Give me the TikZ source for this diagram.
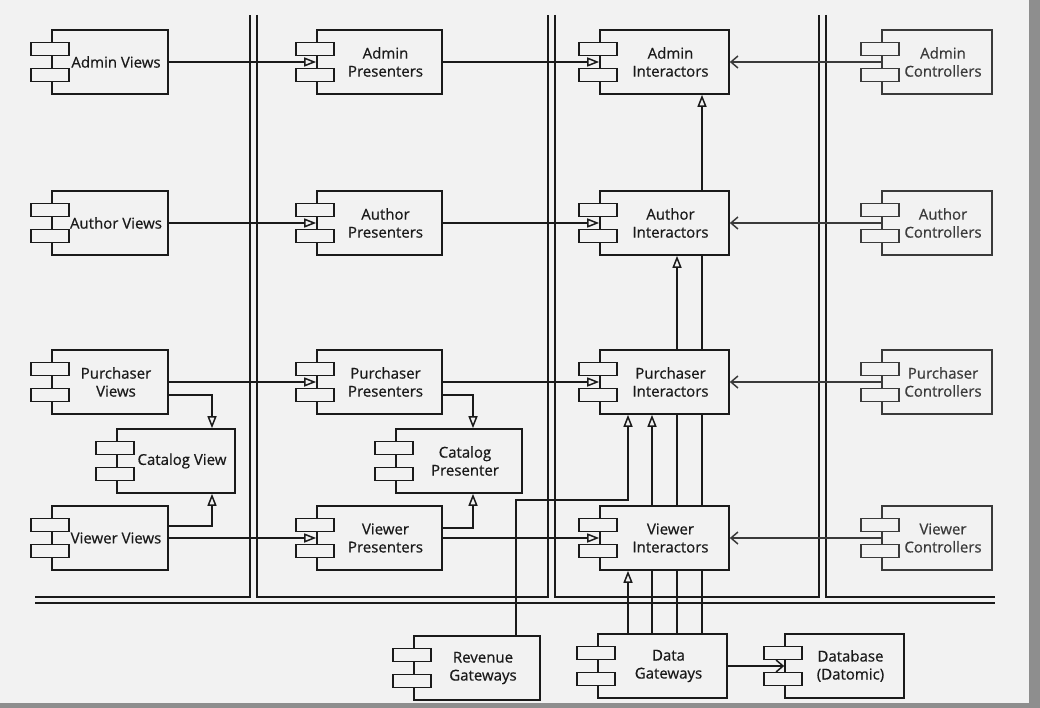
\documentclass[tikz,border=0pt]{standalone}
\usepackage{fontspec}
\setmainfont{Open Sans}
\newfontfamily\lblfont{Open Sans}[FakeBold=0.6]
\usetikzlibrary{arrows.meta,calc,positioning}
\definecolor{linecol}{HTML}{1A1A1A}
\definecolor{ctrlcol}{HTML}{3A3A3A}
\definecolor{pagecol}{HTML}{F2F2F2}
\definecolor{bandcol}{HTML}{8E8E8E}
\pgfdeclarelayer{paper}
\pgfdeclarelayer{background}
\pgfsetlayers{paper,background,main}
\tikzset{
  compmain/.style={fill=pagecol, line width=1.6pt, minimum height=64pt, inner sep=0pt},
  comptab/.style={fill=pagecol, line width=1.6pt, minimum width=38pt, minimum height=13pt, inner sep=0pt},
  complabel/.style={align=center, font=\lblfont\fontsize{15}{18}\selectfont, inner sep=0pt},
  impl/.style={line width=1.5pt, draw=linecol, -{Triangle[open, length=12pt, width=9pt, line width=1.5pt]}},
  uses/.style={line width=1.5pt, draw=#1, -{Straight Barb[length=7pt, width=12pt, line width=1.5pt]}},
  uses/.default=linecol,
  wall/.style={line width=1.4pt, draw=linecol, line join=miter},
}
\newcommand\comp[6][linecol]{%
  \node[compmain, draw=#1, minimum width=#5] (#2) at (#3,#4) {};
  \node[comptab, draw=#1] (#2-ta) at ($(#2.west)+(-1,-13)$) {};
  \node[comptab, draw=#1] (#2-tb) at ($(#2.west)+(-1,13)$) {};
  \node[complabel, text=#1] (#2-l) at ($(#2.center)+(6,0)$) {#6};
}
\begin{document}
\begin{tikzpicture}[x=1pt, y=-1pt]
\useasboundingbox (0,0) rectangle (1040,708);
\begin{pgfonlayer}{paper}
  \fill[pagecol] (0,0) rectangle (1040,708);
  \fill[bandcol] (1029,0) rectangle (1040,708);
  \fill[bandcol] (0,703) rectangle (1040,708);
\end{pgfonlayer}

% Views
\comp{av}{110}{62}{116pt}{Admin Views}
\comp{auv}{110}{223}{116pt}{Author Views}
\comp{pv}{110}{382}{116pt}{Purchaser\\Views}
\comp{cv}{176}{461}{118pt}{Catalog View}
\comp{vv}{110}{538}{116pt}{Viewer Views}
% Presenters
\comp{ap}{379.5}{62}{125pt}{Admin\\Presenters}
\comp{aup}{379.5}{223}{125pt}{Author\\Presenters}
\comp{pp}{379.5}{382}{125pt}{Purchaser\\Presenters}
\comp{cp}{459}{461}{126pt}{Catalog\\Presenter}
\comp{vp}{379.5}{538}{125pt}{Viewer\\Presenters}
% Interactors
\comp{ai}{664.5}{62}{129pt}{Admin\\Interactors}
\comp{aui}{664.5}{223}{129pt}{Author\\Interactors}
\comp{pi}{664.5}{382}{129pt}{Purchaser\\Interactors}
\comp{vi}{664.5}{538}{129pt}{Viewer\\Interactors}
% Controllers
\comp[ctrlcol]{ac}{937}{62}{110pt}{Admin\\Controllers}
\comp[ctrlcol]{auc}{937}{223}{110pt}{Author\\Controllers}
\comp[ctrlcol]{pc}{937}{382}{110pt}{Purchaser\\Controllers}
\comp[ctrlcol]{vc}{937}{538}{110pt}{Viewer\\Controllers}
% Gateways and database
\comp{rg}{477}{668}{126pt}{Revenue\\Gateways}
\comp{dg}{662.5}{666}{129pt}{Data\\Gateways}
\comp{db}{844.5}{666}{119pt}{Database\\(Datomic)}

\coordinate (x1) at (628,0);
\coordinate (x2) at (652,0);
\coordinate (x3) at (677,0);
\coordinate (x4) at (702,0);
\coordinate (rv) at (516,500);

\begin{pgfonlayer}{background}
  % boundaries
  \draw[wall] (35,597) -- (250,597) -- (250,15);
  \draw[wall] (257,15) -- (257,597) -- (548,597) -- (548,15);
  \draw[wall] (555,15) -- (555,597) -- (819,597) -- (819,15);
  \draw[wall] (826,15) -- (826,597) -- (995,597);
  \draw[wall] (35,603) -- (995,603);
  % views -> presenters
  \draw[impl] (av.east) -- (ap.west);
  \draw[impl] (auv.east) -- (aup.west);
  \draw[impl] (pv.east) -- (pp.west);
  \draw[impl] (vv.east) -- (vp.west);
  \draw[impl] ($(pv.east)+(0,13)$) -| ($(cv.north)+(36,0)$);
  \draw[impl] ($(vv.east)+(0,-12)$) -| ($(cv.south)+(36,0)$);
  % presenters -> interactors
  \draw[impl] (ap.east) -- (ai.west);
  \draw[impl] (aup.east) -- (aui.west);
  \draw[impl] (pp.east) -- (pi.west);
  \draw[impl] (vp.east) -- (vi.west);
  \draw[impl] ($(pp.east)+(0,13)$) -| ($(cp.north)+(14,0)$);
  \draw[impl] ($(vp.east)+(0,-10)$) -| ($(cp.south)+(14,0)$);
  % controllers -> interactors
  \draw[uses=ctrlcol] (ac.west) -- (ai.east);
  \draw[uses=ctrlcol] (auc.west) -- (aui.east);
  \draw[uses=ctrlcol] (pc.west) -- (pi.east);
  \draw[uses=ctrlcol] (vc.west) -- (vi.east);
  % gateways -> interactors
  \draw[impl] (dg.north -| x1) -- (vi.south -| x1);
  \draw[impl] (dg.north -| x2) -- (pi.south -| x2);
  \draw[impl] (dg.north -| x3) -- (aui.south -| x3);
  \draw[impl] (dg.north -| x4) -- (ai.south -| x4);
  \draw[impl] (rg.north -| rv) -- (rv) -| (pi.south -| x1);
  % data gateways -> database
  \draw[uses] (dg.east) -- (db.west);
\end{pgfonlayer}
\end{tikzpicture}
\end{document}
